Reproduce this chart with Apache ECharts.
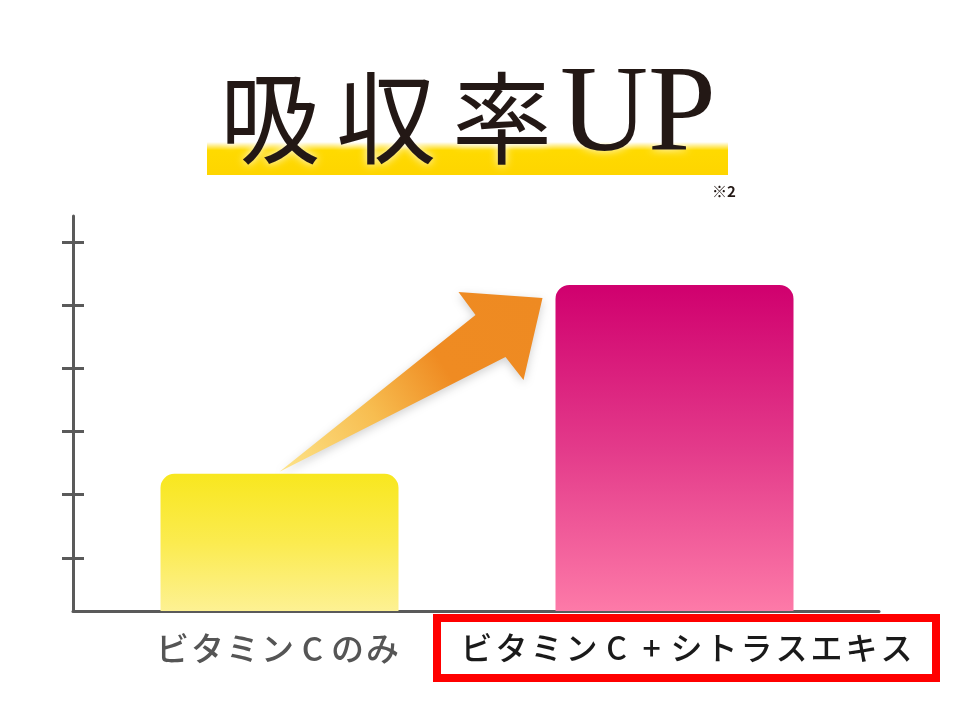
<!DOCTYPE html>
<html lang="ja">
<head>
    <meta charset="UTF-8">
    <title>吸収率UP</title>
    <style>
        html, body { margin: 0; padding: 0; background: #fff; }
        #chart { width: 960px; height: 720px; }
    </style>
    <script src="https://cdn.jsdelivr.net/npm/echarts@6.0.0/dist/echarts.min.js"></script>
</head>
<body>
<div id="chart"></div>
<script>
// data (arbitrary units, axis has no numbers)
const categories = ['ビタミンCのみ', 'ビタミンC+シトラスエキス'];
const absorption = [21.7, 51.6];
const yTicks = [8.4, 18.4, 28.4, 38.4, 48.4, 58.4];
const yMax = 62.5;
const titleKanji = ['吸', '収', '率'];
const titleLatin = 'UP';
const noteText = '※2';

const BAR_W = 238;
const AXIS_COLOR = '#5a5a5a';
const JP = '"Noto Sans CJK JP", "Noto Sans", sans-serif';

var chart = echarts.init(document.getElementById('chart'));

// three grids share top/bottom: 0 = visible axes, 1 = bars, 2 = category labels
var gridBox = { top: 216, bottom: 109 };

var option = {
    backgroundColor: '#fff',
    animation: false,
    title: [
        {
            text: titleKanji.map(function (c) { return '{k|' + c + '}'; }).join('') + '{u|' + titleLatin + '}',
            left: 212,
            top: 58,
            padding: 0,
            z: 10,
            textStyle: {
                fontWeight: 'normal',
                rich: {
                    k: {
                        fontFamily: JP, fontSize: 100, fontWeight: 'normal', width: 116, align: 'center',
                        lineHeight: 120, verticalAlign: 'middle', color: '#231815',
                        textShadowColor: 'rgba(255,255,255,0.9)', textShadowBlur: 8
                    },
                    u: {
                        fontFamily: '"Liberation Serif", serif', fontSize: 122, fontWeight: 'normal',
                        lineHeight: 120, verticalAlign: 'middle', color: '#231815',
                        textShadowColor: 'rgba(255,255,255,0.9)', textShadowBlur: 8
                    }
                }
            }
        },
        {
            text: noteText,
            left: 712,
            top: 184,
            padding: 0,
            textStyle: { fontFamily: JP, fontSize: 15, fontWeight: 'bold', color: '#231815' }
        }
    ],
    grid: [
        Object.assign({ left: 73, right: 81 }, gridBox),
        Object.assign({ left: 82, right: 88 }, gridBox),
        Object.assign({ left: 73, right: 69 }, gridBox)
    ],
    xAxis: [
        {
            gridIndex: 0, type: 'category', data: categories,
            axisLine: { lineStyle: { color: AXIS_COLOR, width: 3 } },
            axisTick: { show: false }, axisLabel: { show: false }
        },
        {
            gridIndex: 1, type: 'category', data: categories, show: false
        },
        {
            gridIndex: 2, type: 'category',
            data: [
                { value: categories[0] },
                { value: categories[1], textStyle: { borderColor: '#ff0000', borderWidth: 8, backgroundColor: '#fff' } }
            ],
            axisLine: { show: false }, axisTick: { show: false },
            axisLabel: {
                margin: 11,
                padding: [8, 18, 8, 18],
                interval: 0,
                formatter: function (value, index) {
                    var tag = index === 0 ? 'a' : 'b';
                    return value.split('').map(function (ch) { return '{' + tag + '|' + ch + '}'; }).join('');
                },
                rich: {
                    a: { width: 35, align: 'center', fontFamily: JP, fontSize: 33, fontWeight: 500, lineHeight: 36, color: '#555555' },
                    b: { width: 35, align: 'center', fontFamily: JP, fontSize: 32, fontWeight: 500, lineHeight: 36, color: '#1a1a1a' }
                }
            }
        }
    ],
    yAxis: [
        {
            gridIndex: 0, type: 'value', position: 'left', min: 0, max: yMax,
            axisLine: { show: true, lineStyle: { color: AXIS_COLOR, width: 3 } },
            axisTick: { show: true, inside: false, length: 11, customValues: yTicks, lineStyle: { color: AXIS_COLOR, width: 3 } },
            axisLabel: { show: false }, splitLine: { show: false }
        },
        {
            gridIndex: 0, type: 'value', position: 'left', offset: 0, min: 0, max: yMax,
            axisLine: { show: false },
            axisTick: { show: true, inside: true, length: 11, customValues: yTicks, lineStyle: { color: AXIS_COLOR, width: 3 } },
            axisLabel: { show: false }, splitLine: { show: false }
        },
        { gridIndex: 1, type: 'value', min: 0, max: yMax, show: false, splitLine: { show: false } },
        { gridIndex: 2, type: 'value', min: 0, max: yMax, show: false, splitLine: { show: false } }
    ],
    series: [
        {
            type: 'bar',
            xAxisIndex: 1,
            yAxisIndex: 2,
            barWidth: BAR_W,
            z: 3,
            data: [
                {
                    value: absorption[0],
                    itemStyle: {
                        borderRadius: [14, 14, 0, 0],
                        color: new echarts.graphic.LinearGradient(0, 0, 0, 1, [
                            { offset: 0, color: '#f8e71f' },
                            { offset: 0.5, color: '#fbeb4f' },
                            { offset: 1, color: '#fdf193' }
                        ])
                    }
                },
                {
                    value: absorption[1],
                    itemStyle: {
                        borderRadius: [14, 14, 0, 0],
                        color: new echarts.graphic.LinearGradient(0, 0, 0, 1, [
                            { offset: 0, color: '#d0006e' },
                            { offset: 0.5, color: '#e33a8a' },
                            { offset: 1, color: '#fd7aa8' }
                        ])
                    }
                }
            ]
        }
    ],
    graphic: [
        {
            // yellow marker band under the title
            type: 'rect',
            z: 1,
            shape: { x: 207, y: 142, width: 521, height: 33 },
            style: {
                fill: {
                    type: 'linear', x: 0, y: 0, x2: 0, y2: 1,
                    colorStops: [
                        { offset: 0, color: 'rgba(255,218,0,0)' },
                        { offset: 0.25, color: '#ffda00' },
                        { offset: 1, color: '#fed500' }
                    ]
                }
            }
        }
    ]
};
chart.setOption(option);

// arrow from the top of the first bar to the corner of the second bar
function drawArrow() {
    var tail = chart.convertToPixel({ seriesIndex: 0 }, [0, absorption[0]]);
    var top2 = chart.convertToPixel({ seriesIndex: 0 }, [1, absorption[1]]);
    var tip = [top2[0] - BAR_W / 2 - 13, top2[1] + 13];
    tail = [tail[0], tail[1] - 2];
    var pts = [
        tail,
        [tip[0] - 67, tip[1] + 17],
        [tip[0] - 84, tip[1] - 6],
        tip,
        [tip[0] - 19, tip[1] + 82],
        [tip[0] - 37, tip[1] + 59]
    ];
    chart.setOption({
        graphic: [
            option.graphic[0],
            {
                type: 'polygon',
                z: 2,
                shape: { points: pts },
                style: {
                    fill: {
                        type: 'linear', global: true,
                        x: tail[0], y: tail[1], x2: tip[0], y2: tip[1],
                        colorStops: [
                            { offset: 0, color: '#fde48a' },
                            { offset: 0.35, color: '#f7bd50' },
                            { offset: 0.62, color: '#ef8b22' },
                            { offset: 1, color: '#ee8a22' }
                        ]
                    },
                    shadowBlur: 10,
                    shadowColor: 'rgba(0,0,0,0.18)',
                    shadowOffsetY: 3
                }
            }
        ]
    });
}
drawArrow();
</script>
</body>
</html>
